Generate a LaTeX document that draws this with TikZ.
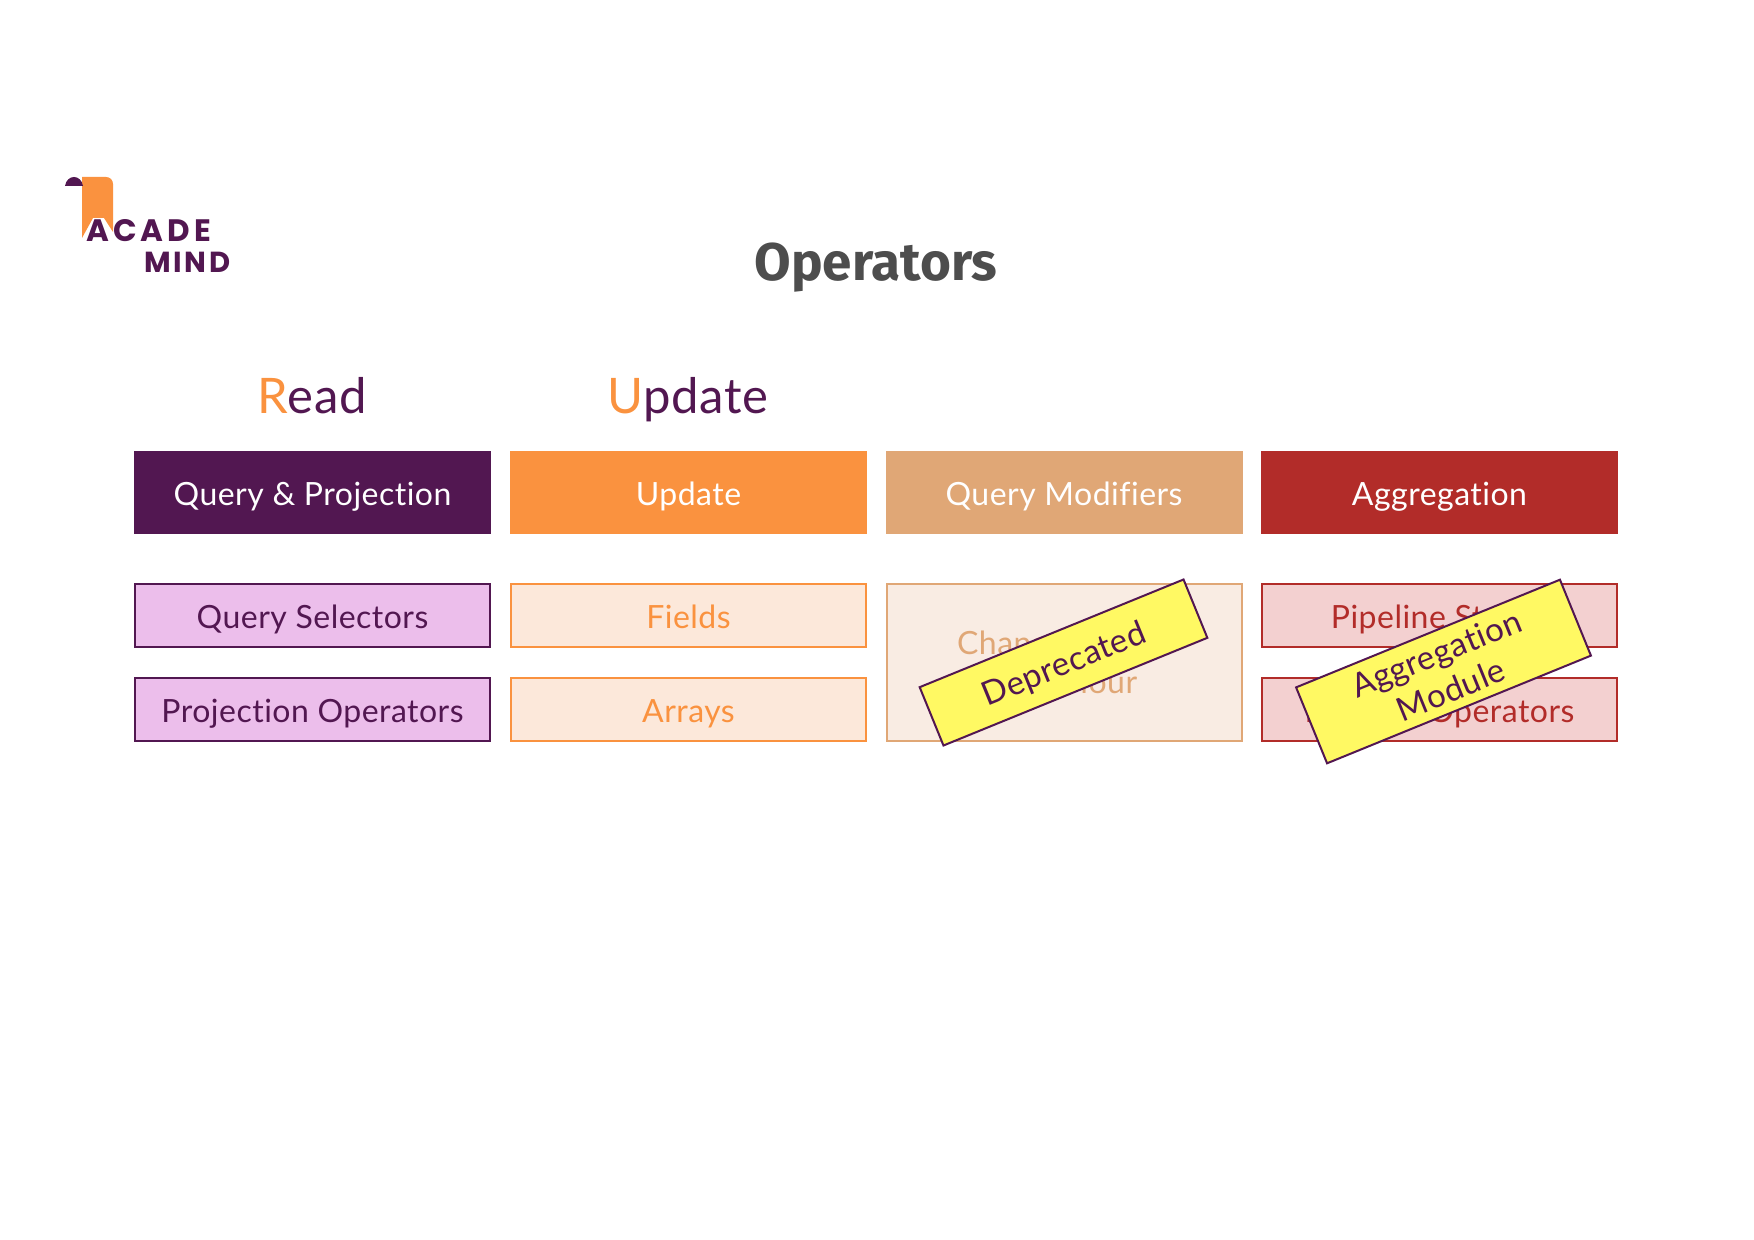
\documentclass[tikz,border=0pt]{standalone}
\usepackage{fontspec}
\setmainfont{Lato}[Ligatures=NoCommon, LetterSpace=1.5]
\newfontfamily\titlefont{Fira Sans}
\newfontfamily\logofont[LetterSpace=13]{Poppins}
\newfontfamily\logofontb[LetterSpace=9]{Poppins}
\usetikzlibrary{positioning}
\definecolor{acpurple}{HTML}{521751}
\definecolor{acorange}{HTML}{FA923F}
\definecolor{actan}{HTML}{E0A776}
\definecolor{acred}{HTML}{B22C29}
\definecolor{acpink}{HTML}{ECBEEB}
\definecolor{acpeach}{HTML}{FCE8DA}
\definecolor{accream}{HTML}{F9ECE3}
\definecolor{acrose}{HTML}{F3D0D0}
\definecolor{acyellow}{HTML}{FFF963}
\definecolor{actitle}{HTML}{4D4D4D}
\tikzset{
	oneline/.style={text height=16pt, text depth=3.5pt},
	headbox/.style={oneline, minimum width=178.5pt, minimum height=41.5pt, inner sep=0pt, outer sep=0pt, text=white, font=\fontsize{16}{20}\selectfont},
	subbox/.style={draw, line width=1pt, minimum width=177.5pt, minimum height=31.5pt, inner sep=0pt, outer sep=0pt, align=center, font=\fontsize{16}{19.5}\selectfont},
	tagbox/.style={draw=acpurple, line width=1pt, fill=acyellow, text=acpurple, minimum width=142.5pt, inner sep=0pt, outer sep=0pt, align=center, rotate=22.2, font=\fontsize{16.5}{19.5}\selectfont},
	columntitle/.style={inner sep=0pt, anchor=base, text=acpurple, font=\fontsize{24.5}{28}\selectfont},
	logotext/.style={inner sep=0pt, anchor=base west, text=acpurple}
}
\begin{document}
\begin{tikzpicture}[x=0.5pt, y=-0.5pt]
	\useasboundingbox (0,0) rectangle (1754,1240);

	\fill [acorange] (82,177) -- (106,177) .. controls (110,177) and (113,180) .. (113,184) -- (113,232) -- (104,218) -- (93,218) -- (82,238) -- cycle;
	\fill [acpurple] (65,186) .. controls (67,174) and (81,174) .. (83,186) -- cycle;
	\node [logotext, font=\logofont\bfseries\fontsize{15.5}{14}\selectfont] (acade) at (86,242) {ACADE};
	\node [logotext, font=\logofontb\bfseries\fontsize{14.5}{14}\selectfont] (mind) at (144,273) {MIND};

	\node [inner sep=0pt, anchor=base, text=actitle, font=\titlefont\bfseries\fontsize{26.5}{30}\selectfont] (title) at (876,281) {Operators};

	\node [columntitle] (read) at (312,414) {\textcolor{acorange}{R}ead};
	\node [columntitle] (write) at (688,414) {\textcolor{acorange}{U}pdate};

	\node [headbox, fill=acpurple] (query) at (312.5,492.5) {Query \& Projection};
	\node [headbox, fill=acorange] (update) at (688.5,492.5) {Update};
	\node [headbox, fill=actan] (modifiers) at (1064,492.5) {Query Modifiers};
	\node [headbox, fill=acred] (aggregation) at (1439.5,492.5) {Aggregation};

	\node [subbox, oneline, draw=acpurple, fill=acpink, text=acpurple] (selectors) at (312.5,615.5) {Query Selectors};
	\node [subbox, oneline, draw=acpurple, fill=acpink, text=acpurple] (projection) at (312.5,709.5) {Projection Operators};
	\node [subbox, oneline, draw=acorange, fill=acpeach, text=acorange] (fields) at (688.5,615.5) {Fields};
	\node [subbox, oneline, draw=acorange, fill=acpeach, text=acorange] (arrays) at (688.5,709.5) {Arrays};
	\node [subbox, draw=actan, fill=accream, text=actan, minimum height=78.5pt] (cursor) at (1064,662) {Change Cursor\\Behaviour};
	\node [subbox, oneline, draw=acred, fill=acrose, text=acred] (stages) at (1439.5,615.5) {Pipeline Stages};
	\node [subbox, oneline, draw=acred, fill=acrose, text=acred] (pipeline) at (1439.5,709.5) {Pipeline Operators};

	\node [tagbox, oneline, minimum height=31.5pt] (deprecated) at (1063.5,662.5) {Deprecated};
	\node [tagbox, minimum height=41pt] (module) at (1443.5,671.5) {Aggregation\\Module};
\end{tikzpicture}
\end{document}
